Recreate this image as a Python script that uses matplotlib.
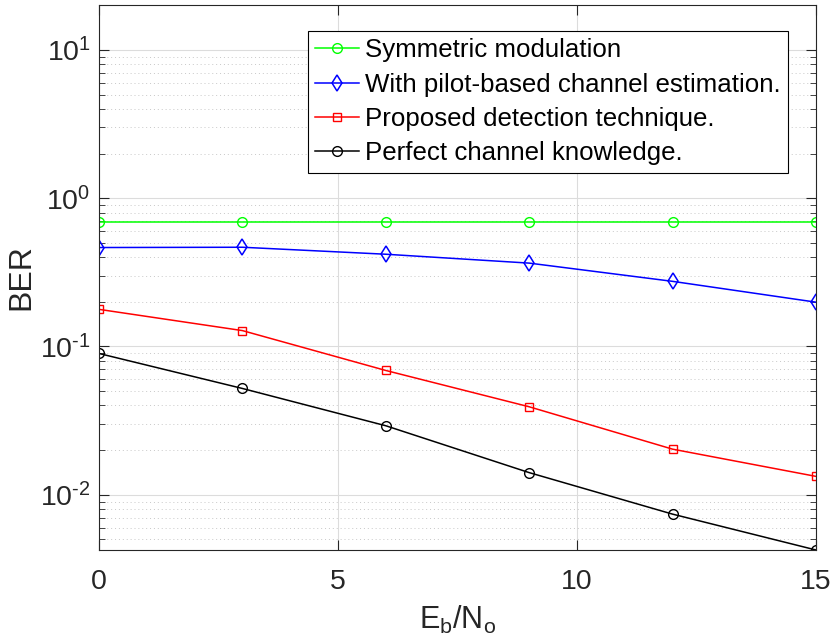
import matplotlib
matplotlib.use("Agg")
import matplotlib.pyplot as plt
import numpy as np
from matplotlib.ticker import FuncFormatter, LogLocator, NullFormatter

plt.rcParams["font.family"] = ["Liberation Sans", "DejaVu Sans"]
plt.rcParams["mathtext.fontset"] = "custom"
plt.rcParams["mathtext.rm"] = "Liberation Sans"
plt.rcParams["mathtext.it"] = "Liberation Sans"
plt.rcParams["mathtext.default"] = "regular"
plt.rcParams["axes.unicode_minus"] = False

# data
ebno = [0, 3, 6, 9, 12, 15]
ber_symmetric = [0.692, 0.692, 0.692, 0.692, 0.692, 0.692]
ber_pilot = [0.465, 0.467, 0.419, 0.365, 0.275, 0.199]
ber_proposed = [0.178, 0.128, 0.0689, 0.0392, 0.0203, 0.0133]
ber_perfect = [0.0897, 0.0521, 0.0292, 0.0141, 0.0074, 0.00424]

labels = [
    "Symmetric modulation",
    "With pilot-based channel estimation.",
    "Proposed detection technique.",
    "Perfect channel knowledge.",
]


def decade_label(value, pos):
    # matlab style 10^-n with a plain hyphen
    exp = int(round(np.log10(value)))
    return r"$10^{\text{%d}}$" % exp


fig = plt.figure(figsize=(8.3, 6.41), dpi=100)
ax = fig.add_axes([99 / 830, 1 - 550 / 641, 717 / 830, 545 / 641])

lw = 1.1
ax.semilogy(ebno, ber_symmetric, "-o", color=(0, 1, 0), mfc="none", ms=7, lw=lw, label=labels[0])
ax.semilogy(ebno, ber_pilot, "-d", color=(0, 0, 1), mfc="none", ms=8, mew=1.1, lw=lw, label=labels[1])
ax.semilogy(ebno, ber_proposed, "-s", color=(1, 0, 0), mfc="none", ms=5.3, lw=lw, label=labels[2])
ax.semilogy(ebno, ber_perfect, "-o", color="k", mfc="none", ms=7, lw=lw, label=labels[3])

ax.set_xlim(0, 15)
ax.set_ylim(0.00424, 20.1)
ax.set_xticks([0, 5, 10, 15])
ax.yaxis.set_major_locator(LogLocator(base=10, numticks=10))
ax.yaxis.set_major_formatter(FuncFormatter(decade_label))
ax.yaxis.set_minor_locator(LogLocator(base=10, subs=range(2, 10), numticks=20))
ax.yaxis.set_minor_formatter(NullFormatter())

ax.grid(True, which="major", color="#dcdcdc", lw=0.8)
ax.grid(True, which="minor", axis="y", color="#c8c8c8", lw=0.7, ls=(0, (1, 3)))
ax.set_axisbelow(True)

ax.tick_params(which="both", direction="in", top=True, right=True, colors="#262626")
ax.tick_params(which="major", length=7, labelsize=20.5)
ax.tick_params(axis="x", which="major", pad=14)
ax.tick_params(axis="y", which="major", pad=6)
ax.tick_params(which="minor", length=4)
ax.tick_params(axis="x", which="minor", top=False, bottom=False)
for sp in ax.spines.values():
    sp.set_color("#262626")
    sp.set_linewidth(0.8)

ax.set_xlabel("E$_b$/N$_o$", fontsize=22, color="#262626", labelpad=6)
ax.set_ylabel("BER", fontsize=23, color="#262626")
ax.yaxis.set_label_coords(-0.087, 0.5)

leg = ax.legend(loc="upper right", bbox_to_anchor=(0.961, 0.952), fontsize=18.6,
                fancybox=False, framealpha=1, edgecolor="k", handlelength=1.7,
                handletextpad=0.25, borderpad=0.28, labelspacing=0.4, borderaxespad=0)
leg.get_frame().set_linewidth(0.8)

fig.savefig("out.png", dpi=100)
